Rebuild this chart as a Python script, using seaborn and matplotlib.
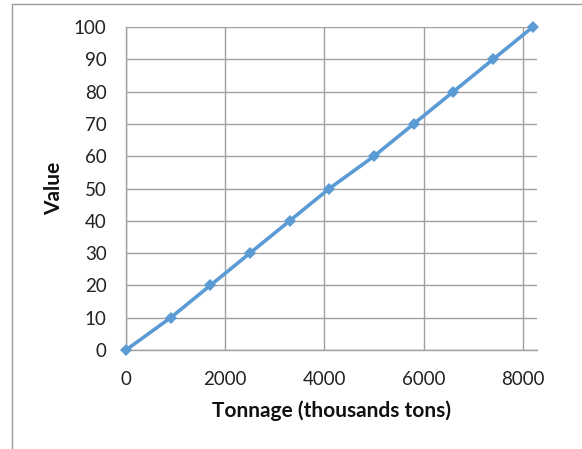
import matplotlib
matplotlib.use("Agg")
import matplotlib.pyplot as plt
import seaborn as sns
import pandas as pd
from matplotlib.lines import Line2D

tonnage = [0, 900, 1700, 2500, 3300, 4100, 5000, 5800, 6600, 7400, 8200]
values = [0, 10, 20, 30, 40, 50, 60, 70, 80, 90, 100]
x_ticks = [0, 2000, 4000, 6000, 8000]
y_ticks = [0, 10, 20, 30, 40, 50, 60, 70, 80, 90, 100]

df = pd.DataFrame({"Tonnage": tonnage, "Value": values})

sns.set_theme(style="white")
plt.rcParams['font.family'] = ['Lato', 'DejaVu Sans']

W, H = 582, 449
fig = plt.figure(figsize=(W / 100, H / 100), dpi=100)
ax = fig.add_axes([126 / W, (H - 350) / H, (537 - 126) / W, (350 - 27) / H])

sns.lineplot(data=df, x="Tonnage", y="Value", ax=ax, color="#5B9BD5",
             linewidth=2.6, marker="D", markersize=6.5, markeredgewidth=0,
             zorder=5, clip_on=False)

ax.set_xlim(0, 8285)
ax.set_ylim(0, 100)
ax.set_xticks(x_ticks)
ax.set_yticks(y_ticks)
ax.tick_params(axis="both", length=0, labelsize=13.5, colors="#222222")
ax.tick_params(axis="y", pad=14)
ax.tick_params(axis="x", pad=15)
ax.grid(True, color="#A0A0A0", linewidth=1)
for s in ["top", "right"]:
    ax.spines[s].set_visible(False)
for s in ["left", "bottom"]:
    ax.spines[s].set_color("#A0A0A0")
    ax.spines[s].set_linewidth(1)

ax.set_xlabel("Tonnage (thousands tons)", fontsize=15, fontweight="bold",
              labelpad=9, color="#111111")
ax.set_ylabel("Value", fontsize=15, fontweight="bold", labelpad=7, color="#111111")

# outer chart border (left and top only visible)
fig.add_artist(Line2D([11.5 / W, 11.5 / W], [0, (H - 3.5) / H],
                      transform=fig.transFigure, color="#9A9A9A", linewidth=1))
fig.add_artist(Line2D([11.5 / W, 1], [(H - 3.5) / H, (H - 3.5) / H],
                      transform=fig.transFigure, color="#9A9A9A", linewidth=1))

fig.savefig("out.png", dpi=100)
